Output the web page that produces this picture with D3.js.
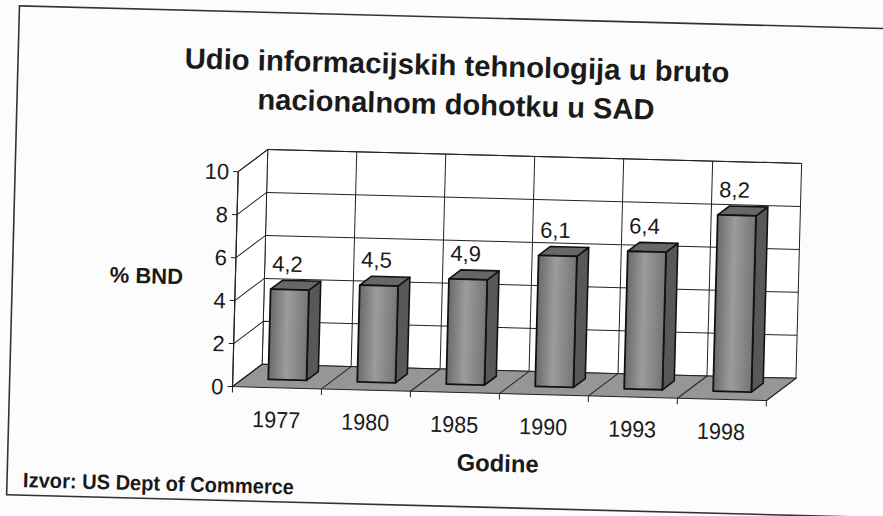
<!DOCTYPE html>
<html>
<head>
<meta charset="utf-8">
<script src="https://cdn.jsdelivr.net/npm/d3@7"></script>
<style>
  body { margin: 0; background: #fcfcfc; }
  text { font-family: "Liberation Sans", Arial, sans-serif; fill: #1a1a1a; }
</style>
</head>
<body>
<script>
// data
var years = ["1977", "1980", "1985", "1990", "1993", "1998"];
var shares = [4.2, 4.5, 4.9, 6.1, 6.4, 8.2];
var yTicks = [0, 2, 4, 6, 8, 10];
var titleLines = ["Udio informacijskih tehnologija u bruto", "nacionalnom dohotku u SAD"];
var yTitle = "% BND",
    xTitle = "Godine",
    source = "Izvor: US Dept of Commerce";

var width = 883, height = 516;

var svg = d3.select("body").append("svg")
    .attr("width", width)
    .attr("height", height);

svg.append("rect")
    .attr("width", width).attr("height", height)
    .attr("fill", "#fcfcfc");

// the scan is slightly tilted
var chart = svg.append("g")
    .attr("transform", "rotate(1.5,441,258)");

var defs = svg.append("defs");
var grad = defs.append("linearGradient").attr("id", "barFront")
    .attr("x1", "0%").attr("x2", "100%").attr("y1", "0%").attr("y2", "0%");
grad.append("stop").attr("offset", "0%").attr("stop-color", "#6a6a6a");
grad.append("stop").attr("offset", "45%").attr("stop-color", "#9c9c9c");
grad.append("stop").attr("offset", "100%").attr("stop-color", "#757575");

// frame (right edge falls outside the scan)
chart.append("rect")
    .attr("x", 13).attr("y", 17)
    .attr("width", 960).attr("height", 489)
    .attr("fill", "none")
    .attr("stroke", "#333")
    .attr("stroke-width", 1.6);

// scales
var x = d3.scaleBand().domain(years).range([236, 770])
    .paddingInner(0.57).paddingOuter(0.285);
var y = d3.scaleLinear().domain([0, 10]).range([392, 177]);
var depth = {dx: 29, dy: -23};
var z0 = 0.35, z1 = 0.75;

function P(px, v, z) {
    return [px + z * depth.dx, y(v) + z * depth.dy];
}
function poly(pts) {
    return "M" + pts.map(function (p) { return p[0] + "," + p[1]; }).join("L") + "Z";
}

var xLeft = x.range()[0], xRight = x.range()[1];
var bounds = d3.range(years.length + 1).map(function (i) {
    return xLeft + i * x.step();
});

// walls and floor
chart.append("path")
    .attr("d", poly([P(xLeft, 0, 1), P(xRight, 0, 1), P(xRight, 10, 1), P(xLeft, 10, 1)]))
    .attr("fill", "#fff").attr("stroke", "#222").attr("stroke-width", 1);
chart.append("path")
    .attr("d", poly([P(xLeft, 0, 0), P(xLeft, 10, 0), P(xLeft, 10, 1), P(xLeft, 0, 1)]))
    .attr("fill", "#fff").attr("stroke", "#222").attr("stroke-width", 1);

// value gridlines on side and back wall
yTicks.filter(function (t) { return t > 0; }).forEach(function (t) {
    chart.append("path")
        .attr("d", "M" + P(xLeft, t, 0) + "L" + P(xLeft, t, 1) + "L" + P(xRight, t, 1))
        .attr("fill", "none").attr("stroke", "#222").attr("stroke-width", 1);
});
// category gridlines on back wall
bounds.slice(1, -1).forEach(function (b) {
    chart.append("line")
        .attr("x1", P(b, 0, 1)[0]).attr("y1", P(b, 0, 1)[1])
        .attr("x2", P(b, 10, 1)[0]).attr("y2", P(b, 10, 1)[1])
        .attr("stroke", "#222").attr("stroke-width", 1);
});

chart.append("path")
    .attr("d", poly([P(xLeft, 0, 0), P(xRight, 0, 0), P(xRight, 0, 1), P(xLeft, 0, 1)]))
    .attr("fill", "#969696").attr("stroke", "#222").attr("stroke-width", 1);

// floor gridlines and ticks
bounds.forEach(function (b) {
    chart.append("line")
        .attr("x1", P(b, 0, 0)[0]).attr("y1", P(b, 0, 0)[1])
        .attr("x2", P(b, 0, 1)[0]).attr("y2", P(b, 0, 1)[1])
        .attr("stroke", "#222").attr("stroke-width", 1);
    chart.append("line")
        .attr("x1", b).attr("y1", y(0))
        .attr("x2", b).attr("y2", y(0) + 6)
        .attr("stroke", "#222").attr("stroke-width", 1);
});

// y axis
chart.append("line")
    .attr("x1", xLeft).attr("y1", y(0))
    .attr("x2", xLeft).attr("y2", y(10))
    .attr("stroke", "#222").attr("stroke-width", 1.2);
yTicks.forEach(function (t) {
    chart.append("line")
        .attr("x1", xLeft - 5).attr("y1", y(t))
        .attr("x2", xLeft).attr("y2", y(t))
        .attr("stroke", "#222");
    chart.append("text")
        .attr("x", xLeft - 9).attr("y", y(t))
        .attr("dy", "0.36em")
        .attr("text-anchor", "end")
        .style("font-size", "22px")
        .text(t);
});

// bars
var bw = x.bandwidth();
var bars = chart.selectAll(".bar")
    .data(years.map(function (d, i) { return {year: d, v: shares[i]}; }))
    .enter().append("g")
    .attr("class", "bar");

bars.append("path")
    .attr("d", function (d) {
        var xl = x(d.year) + bw;
        return poly([P(xl, 0, z0), P(xl, 0, z1), P(xl, d.v, z1), P(xl, d.v, z0)]);
    })
    .attr("fill", "#585858").attr("stroke", "#111").attr("stroke-width", 1.6)
    .attr("stroke-linejoin", "round");
bars.append("path")
    .attr("d", function (d) {
        var xl = x(d.year), xr = xl + bw;
        return poly([P(xl, d.v, z0), P(xr, d.v, z0), P(xr, d.v, z1), P(xl, d.v, z1)]);
    })
    .attr("fill", "#676767").attr("stroke", "#111").attr("stroke-width", 1.6)
    .attr("stroke-linejoin", "round");
bars.append("path")
    .attr("d", function (d) {
        var xl = x(d.year), xr = xl + bw;
        return poly([P(xl, 0, z0), P(xr, 0, z0), P(xr, d.v, z0), P(xl, d.v, z0)]);
    })
    .attr("fill", "url(#barFront)").attr("stroke", "#111").attr("stroke-width", 1.8)
    .attr("stroke-linejoin", "round");

// value labels
bars.append("text")
    .attr("x", function (d) { return P(x(d.year) + bw / 2, d.v, z0)[0] - 3; })
    .attr("y", function (d) { return P(x(d.year) + bw / 2, d.v, z0)[1] - 18; })
    .attr("text-anchor", "middle")
    .style("font-size", "22px")
    .text(function (d) { return d3.format(".1f")(d.v).replace(".", ","); });

// category labels
chart.selectAll(".year")
    .data(years)
    .enter().append("text")
    .attr("class", "year")
    .attr("x", function (d) { return x(d) + bw / 2; })
    .attr("y", 432)
    .attr("text-anchor", "middle")
    .style("font-size", "23px")
    .attr("textLength", 48)
    .attr("lengthAdjust", "spacingAndGlyphs")
    .text(function (d) { return d; });

// titles
chart.selectAll(".title")
    .data(titleLines)
    .enter().append("text")
    .attr("class", "title")
    .attr("x", 452)
    .attr("y", function (d, i) { return 75 + i * 39; })
    .attr("text-anchor", "middle")
    .style("font-size", "29px")
    .style("font-weight", "bold")
    .attr("textLength", function (d, i) { return i === 0 ? 545 : 397; })
    .attr("lengthAdjust", "spacingAndGlyphs")
    .text(function (d) { return d; });

chart.append("text")
    .attr("x", 147).attr("y", 291)
    .attr("text-anchor", "middle")
    .style("font-size", "22px")
    .style("font-weight", "bold")
    .text(yTitle);

chart.append("text")
    .attr("x", 503).attr("y", 470)
    .attr("text-anchor", "middle")
    .style("font-size", "24px")
    .style("font-weight", "bold")
    .attr("textLength", 82)
    .attr("lengthAdjust", "spacingAndGlyphs")
    .text(xTitle);

chart.append("text")
    .attr("x", 29).attr("y", 498)
    .style("font-size", "21px")
    .style("font-weight", "bold")
    .attr("textLength", 271)
    .attr("lengthAdjust", "spacingAndGlyphs")
    .text(source);
</script>
</body>
</html>
